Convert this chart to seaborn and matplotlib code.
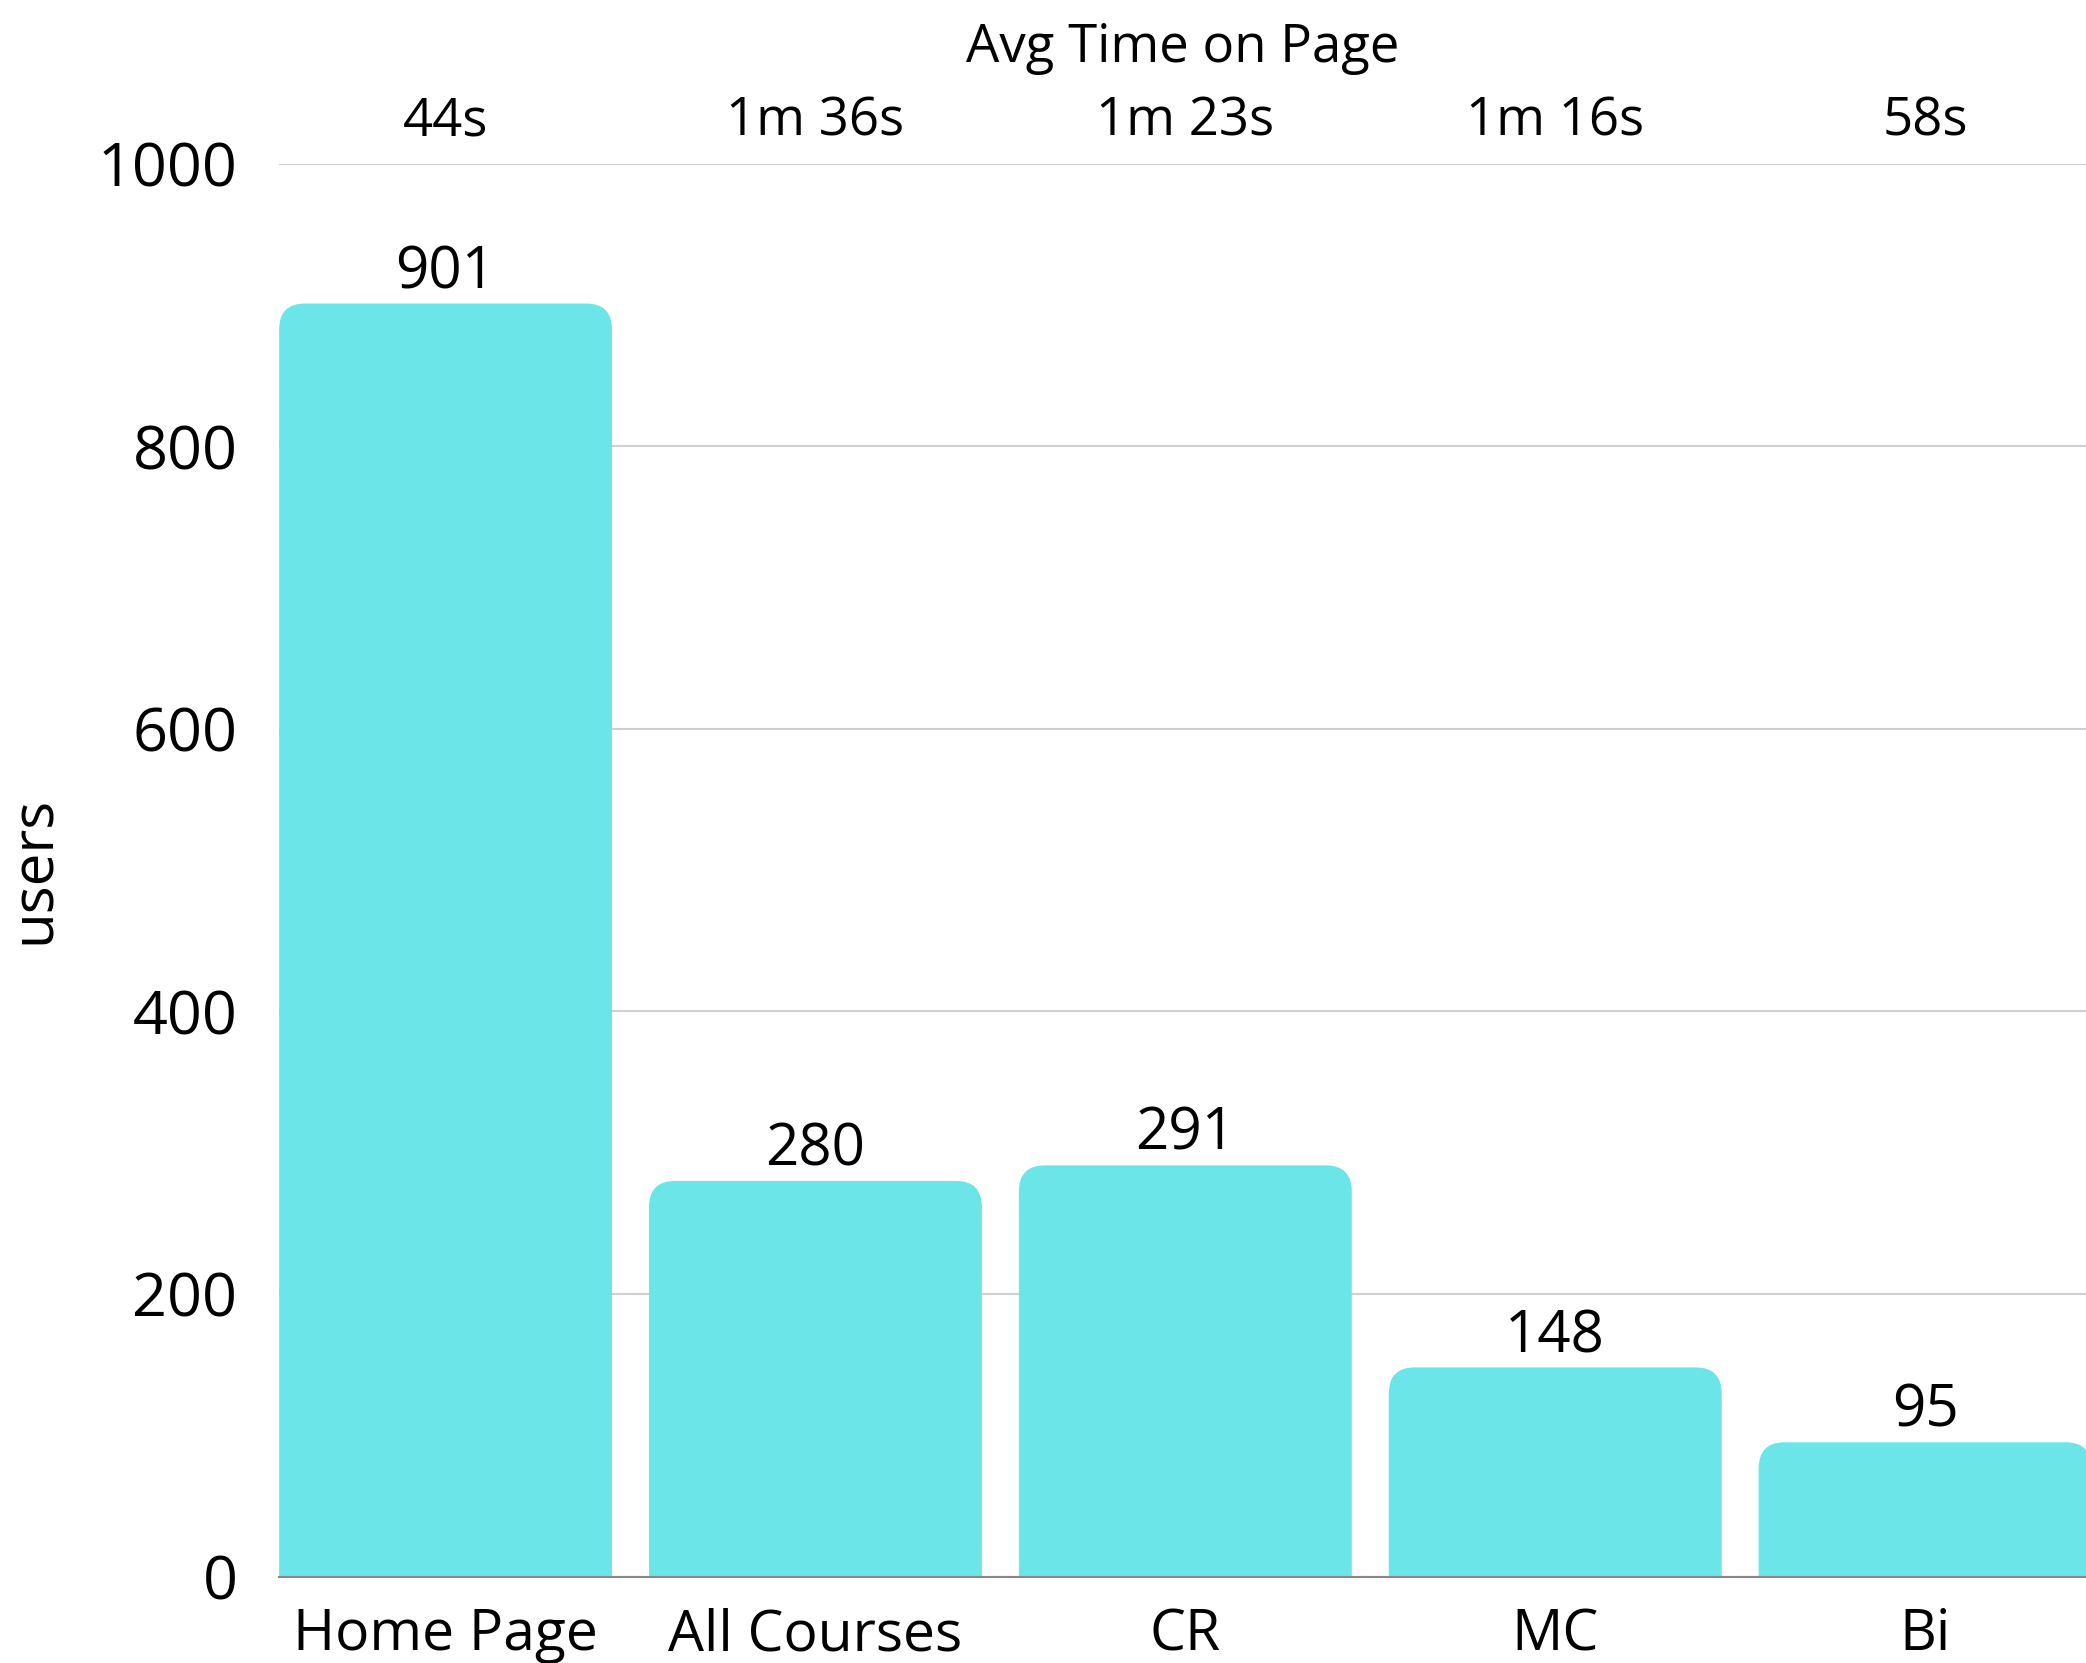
import matplotlib
matplotlib.use("Agg")
import matplotlib.pyplot as plt
import seaborn as sns
import pandas as pd
from matplotlib.patches import FancyBboxPatch

pages = ["Home Page", "All Courses", "CR", "MC", "Bi"]
users = [901, 280, 291, 148, 95]
avg_time = ["44s", "1m 36s", "1m 23s", "1m 16s", "58s"]
y_ticks = [0, 200, 400, 600, 800, 1000]

BAR = "#6ce5e8"

sns.set_theme(style="white")
plt.rcParams["font.family"] = ["Open Sans", "DejaVu Sans"]
plt.rcParams["text.color"] = "black"
plt.rcParams["axes.labelcolor"] = "black"
plt.rcParams["xtick.color"] = "black"
plt.rcParams["ytick.color"] = "black"

df = pd.DataFrame({"page": pages, "users": users})

fig = plt.figure(figsize=(20.86, 16.63), dpi=100)
ax = fig.add_axes([0.1338, 0.052, 0.8662, 0.8496])

sns.barplot(data=df, x="page", y="users", color=BAR, width=0.9, ax=ax, saturation=1)

ax.set_xlim(-0.45, 4.435)
ax.set_ylim(0, 1000)

# rounded top corners
rx = 0.07
ry = 18.5
for p in ax.patches:
    x, y = p.get_x(), p.get_y()
    w, h = p.get_width(), p.get_height()
    p.set_visible(False)
    fb = FancyBboxPatch((x, -ry * 2), w, h + ry * 2,
                        boxstyle=f"round,pad=0,rounding_size={rx}",
                        mutation_aspect=ry / rx,
                        facecolor=BAR, edgecolor="none", zorder=2)
    ax.add_patch(fb)

ax.bar_label(ax.containers[0], labels=[str(v) for v in users],
             padding=1, fontsize=42, color="black")

ax.set_yticks(y_ticks)
ax.set_yticklabels([str(t) for t in y_ticks], fontsize=44)
ax.tick_params(axis="y", length=0, pad=30, labelcolor="black")
ax.tick_params(axis="x", length=0, pad=22, labelsize=41, labelcolor="black")
ax.yaxis.grid(True, color="#cfcfcf", linewidth=1.5)
ax.xaxis.grid(False)
ax.set_axisbelow(True)
for s in ["top", "right", "left"]:
    ax.spines[s].set_visible(False)
ax.spines["bottom"].set_color("#888888")
ax.spines["bottom"].set_linewidth(1.5)
ax.set_xlabel("")
ax.set_ylabel("users", fontsize=42, labelpad=24, color="black")

ax2 = ax.twiny()
ax2.set_xlim(ax.get_xlim())
ax2.set_xticks(range(len(avg_time)))
ax2.set_xticklabels(avg_time, fontsize=38)
ax2.tick_params(axis="x", length=0, pad=11, labelcolor="black")
ax2.set_xlabel("Avg Time on Page", fontsize=38, labelpad=24, color="black")
for s in ax2.spines.values():
    s.set_visible(False)

fig.savefig("out.png", dpi=100)
